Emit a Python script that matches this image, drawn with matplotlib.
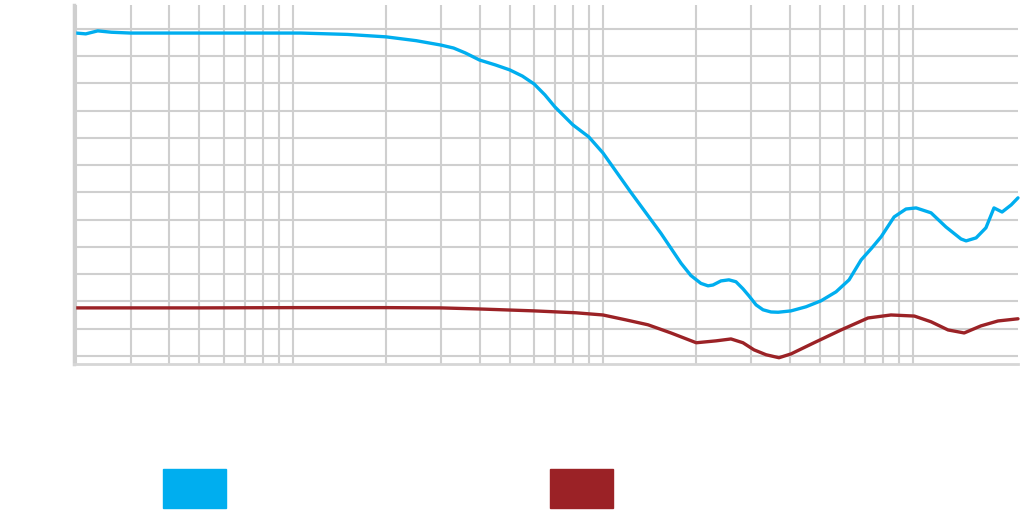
import numpy as np
import matplotlib.pyplot as plt
from matplotlib.patches import Rectangle
from matplotlib.ticker import FixedLocator, NullFormatter

# frequency (Hz) and level (grid units)
blue_freq = [20, 21.5, 23.5, 26, 30, 50, 106, 150, 200, 250, 300, 330, 360, 400,
             450, 500, 550, 600, 650, 700, 800, 900, 1000, 1231, 1538, 1786, 1921,
             2070, 2182, 2264, 2402, 2548, 2685, 2829, 2958, 3118, 3283, 3483, 3673,
             4040, 4516, 5050, 5646, 6220, 6800, 7350, 7890, 8690, 9490, 10230,
             11430, 12770, 14280, 14830, 15970, 17180, 18240, 19370, 20720, 21800]
blue_level = [11.85, 11.82, 11.93, 11.88, 11.85, 11.85, 11.85, 11.80, 11.71, 11.57,
              11.41, 11.30, 11.12, 10.86, 10.68, 10.50, 10.27, 9.98, 9.58, 9.14,
              8.48, 8.04, 7.45, 6.00, 4.50, 3.40, 2.95, 2.66, 2.57, 2.60, 2.75, 2.79,
              2.72, 2.46, 2.20, 1.87, 1.69, 1.61, 1.60, 1.65, 1.80, 2.02, 2.35, 2.79,
              3.52, 3.95, 4.37, 5.10, 5.39, 5.43, 5.25, 4.73, 4.29, 4.22, 4.33, 4.70,
              5.43, 5.28, 5.54, 5.80]

red_freq = [20, 50, 100, 200, 300, 400, 600, 818, 1000, 1186, 1397, 1657, 2000,
            2318, 2588, 2829, 3070, 3358, 3696, 4040, 4795, 5860, 7160, 8490, 10100,
            11430, 12970, 14620, 16560, 18790, 21800]
red_level = [1.76, 1.76, 1.77, 1.77, 1.76, 1.72, 1.65, 1.58, 1.50, 1.32, 1.14, 0.84,
             0.48, 0.55, 0.62, 0.48, 0.22, 0.04, -0.07, 0.07, 0.48, 0.95, 1.39, 1.50,
             1.46, 1.25, 0.95, 0.84, 1.10, 1.28, 1.36]

blue = '#00aeef'
red = '#9b2226'
grid_col = '#cfcfcf'

fig = plt.figure(figsize=(10.22, 5.15), dpi=100)
ax = fig.add_axes([74 / 1022, (515 - 364) / 515, (1018 - 74) / 1022, (364 - 5) / 515])

ax.set_xscale('log')
ax.set_xlim(19.7, 21800)
ax.set_ylim(-0.3, 12.88)

minor = [m * d for d in (10, 100, 1000) for m in range(2, 10)]
ax.xaxis.set_major_locator(FixedLocator([100, 1000, 10000]))
ax.xaxis.set_minor_locator(FixedLocator(minor))
ax.yaxis.set_major_locator(FixedLocator(range(0, 13)))
ax.xaxis.set_major_formatter(NullFormatter())
ax.xaxis.set_minor_formatter(NullFormatter())
ax.yaxis.set_major_formatter(NullFormatter())
ax.tick_params(which='both', length=0)
ax.grid(True, which='both', axis='x', color=grid_col, lw=1.5)
ax.grid(True, which='major', axis='y', color=grid_col, lw=1.5)
ax.set_axisbelow(True)

for s in ['top', 'right']:
    ax.spines[s].set_visible(False)
ax.spines['left'].set_color(grid_col)
ax.spines['left'].set_linewidth(2.5)
ax.spines['bottom'].set_color('#d6d6d6')
ax.spines['bottom'].set_linewidth(2)

ax.plot(blue_freq, blue_level, color=blue, lw=2.4, solid_capstyle='round',
        solid_joinstyle='round', clip_on=False)
ax.plot(red_freq, red_level, color=red, lw=2.4, solid_capstyle='round',
        solid_joinstyle='round', clip_on=False)

# legend swatches (no text in the reference)
fig.patches.append(Rectangle((163 / 1022, (515 - 508) / 515), 63 / 1022, 39 / 515,
                             transform=fig.transFigure, color=blue, figure=fig))
fig.patches.append(Rectangle((550 / 1022, (515 - 508) / 515), 63 / 1022, 39 / 515,
                             transform=fig.transFigure, color=red, figure=fig))

fig.savefig('out.png', dpi=100)
